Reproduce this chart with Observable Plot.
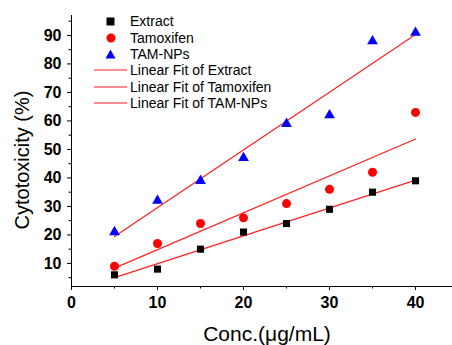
<!DOCTYPE html>
<html>
<head>
<meta charset="utf-8">
<script src="https://cdn.jsdelivr.net/npm/d3@7"></script>
<script src="https://cdn.jsdelivr.net/npm/@observablehq/plot@0.6"></script>
<style>
  html, body { margin: 0; padding: 0; background: #fff; }
  #wrap { position: relative; width: 452px; height: 345px; font-family: Arial, "Liberation Sans", sans-serif; }
  #legend { position: absolute; left: 94px; top: 13px; font-size: 14px; color: #000; }
  .row { height: 16.4px; display: flex; align-items: center; }
  .sym { width: 33px; display: flex; justify-content: center; align-items: center; }
  .row span { margin-left: 3px; }
</style>
</head>
<body>
<div id="wrap"><div id="legend"></div></div>
<script>
const conc = [5, 10, 15, 20, 25, 30, 35, 40];
const extract = [6, 8, 15, 21, 24, 29, 35, 39];
const tamoxifen = [9, 17, 24, 26, 31, 36, 42, 63];
const tamNPs = [21, 32, 39, 47, 59, 62, 88, 91];
const xTicks = [0, 10, 20, 30, 40];
const xMinor = [5, 15, 25, 35];
const yTicks = [10, 20, 30, 40, 50, 60, 70, 80, 90];
const yMinor = [5, 15, 25, 35, 45, 55, 65, 75, 85, 95];
const seriesNames = ["Extract", "Tamoxifen", "TAM-NPs"];
const fitNames = ["Linear Fit of Extract", "Linear Fit of Tamoxifen", "Linear Fit of TAM-NPs"];
const yTitle = "Cytotoxicity (%)";
const xTitle = "Conc.(μg/mL)";

const toRows = (vals, name) => conc.map((c, i) => ({x: c, y: vals[i], s: name}));
const dExt = toRows(extract, "Extract");
const dTam = toRows(tamoxifen, "Tamoxifen");
const dNP = toRows(tamNPs, "TAM-NPs");

const yMin = 1.9, yMax = 97;
const fit = "#ff2020";

const chart = Plot.plot({
  width: 452,
  height: 345,
  marginLeft: 71,
  marginRight: 0,
  marginTop: 15,
  marginBottom: 59,
  style: {fontFamily: "Arial, 'Liberation Sans', sans-serif", background: "#fff", color: "#000"},
  x: {domain: [0, 44.3]},
  y: {domain: [yMin, yMax]},
  marks: [
    Plot.axisY({ticks: yTicks, tickSize: 4, tickPadding: 6, fontSize: 16, fontWeight: "bold", label: null}),
    Plot.axisY({ticks: yMinor, tickSize: 2.5, text: null, label: null}),
    Plot.text([yTitle], {text: d => d, frameAnchor: "left", textAnchor: "middle", lineAnchor: "middle", rotate: -90, dx: -49, dy: 9, fontSize: 20}),
    Plot.axisX({ticks: xTicks, tickSize: 4, tickPadding: 6, fontSize: 16, fontWeight: "bold", label: null}),
    Plot.axisX({ticks: xMinor, tickSize: 2.5, text: null, label: null}),
    Plot.text([xTitle], {text: d => d, frameAnchor: "bottom", textAnchor: "middle", lineAnchor: "middle", dx: 5, dy: 48, fontSize: 21}),
    Plot.ruleX([0], {y1: yMin, y2: yMax, stroke: "#000", strokeWidth: 1}),
    Plot.ruleY([yMin], {x1: 0, x2: 44.3, stroke: "#000", strokeWidth: 1}),
    Plot.linearRegressionY(dExt, {x: "x", y: "y", stroke: fit, strokeWidth: 1.2, ci: 0}),
    Plot.linearRegressionY(dTam, {x: "x", y: "y", stroke: fit, strokeWidth: 1.2, ci: 0}),
    Plot.linearRegressionY(dNP, {x: "x", y: "y", stroke: fit, strokeWidth: 1.2, ci: 0}),
    Plot.dot(dExt, {x: "x", y: "y", symbol: "square", r: 4, fill: "#000"}),
    Plot.dot(dTam, {x: "x", y: "y", symbol: "circle", r: 4.5, fill: "#ff0000"}),
    Plot.dot(dNP, {x: "x", y: "y", symbol: "triangle", r: 4, fill: "#0000ff"})
  ]
});
document.getElementById("wrap").prepend(chart);

const legend = document.getElementById("legend");
const syms = [
  '<svg width="9" height="9"><rect x="0.5" y="0.5" width="8" height="8" fill="#000"/></svg>',
  '<svg width="10" height="10"><circle cx="5" cy="5" r="4.5" fill="#ff0000"/></svg>',
  '<svg width="11" height="10"><polygon points="5.5,0.5 10.5,9.5 0.5,9.5" fill="#0000ff"/></svg>'
];
seriesNames.forEach((n, i) => {
  legend.insertAdjacentHTML("beforeend", `<div class="row"><div class="sym">${syms[i]}</div><span>${n}</span></div>`);
});
fitNames.forEach(n => {
  legend.insertAdjacentHTML("beforeend", `<div class="row"><div class="sym"><svg width="33" height="4"><line x1="0" y1="2" x2="33" y2="2" stroke="${fit}" stroke-width="1.2"/></svg></div><span>${n}</span></div>`);
});
</script>
</body>
</html>
